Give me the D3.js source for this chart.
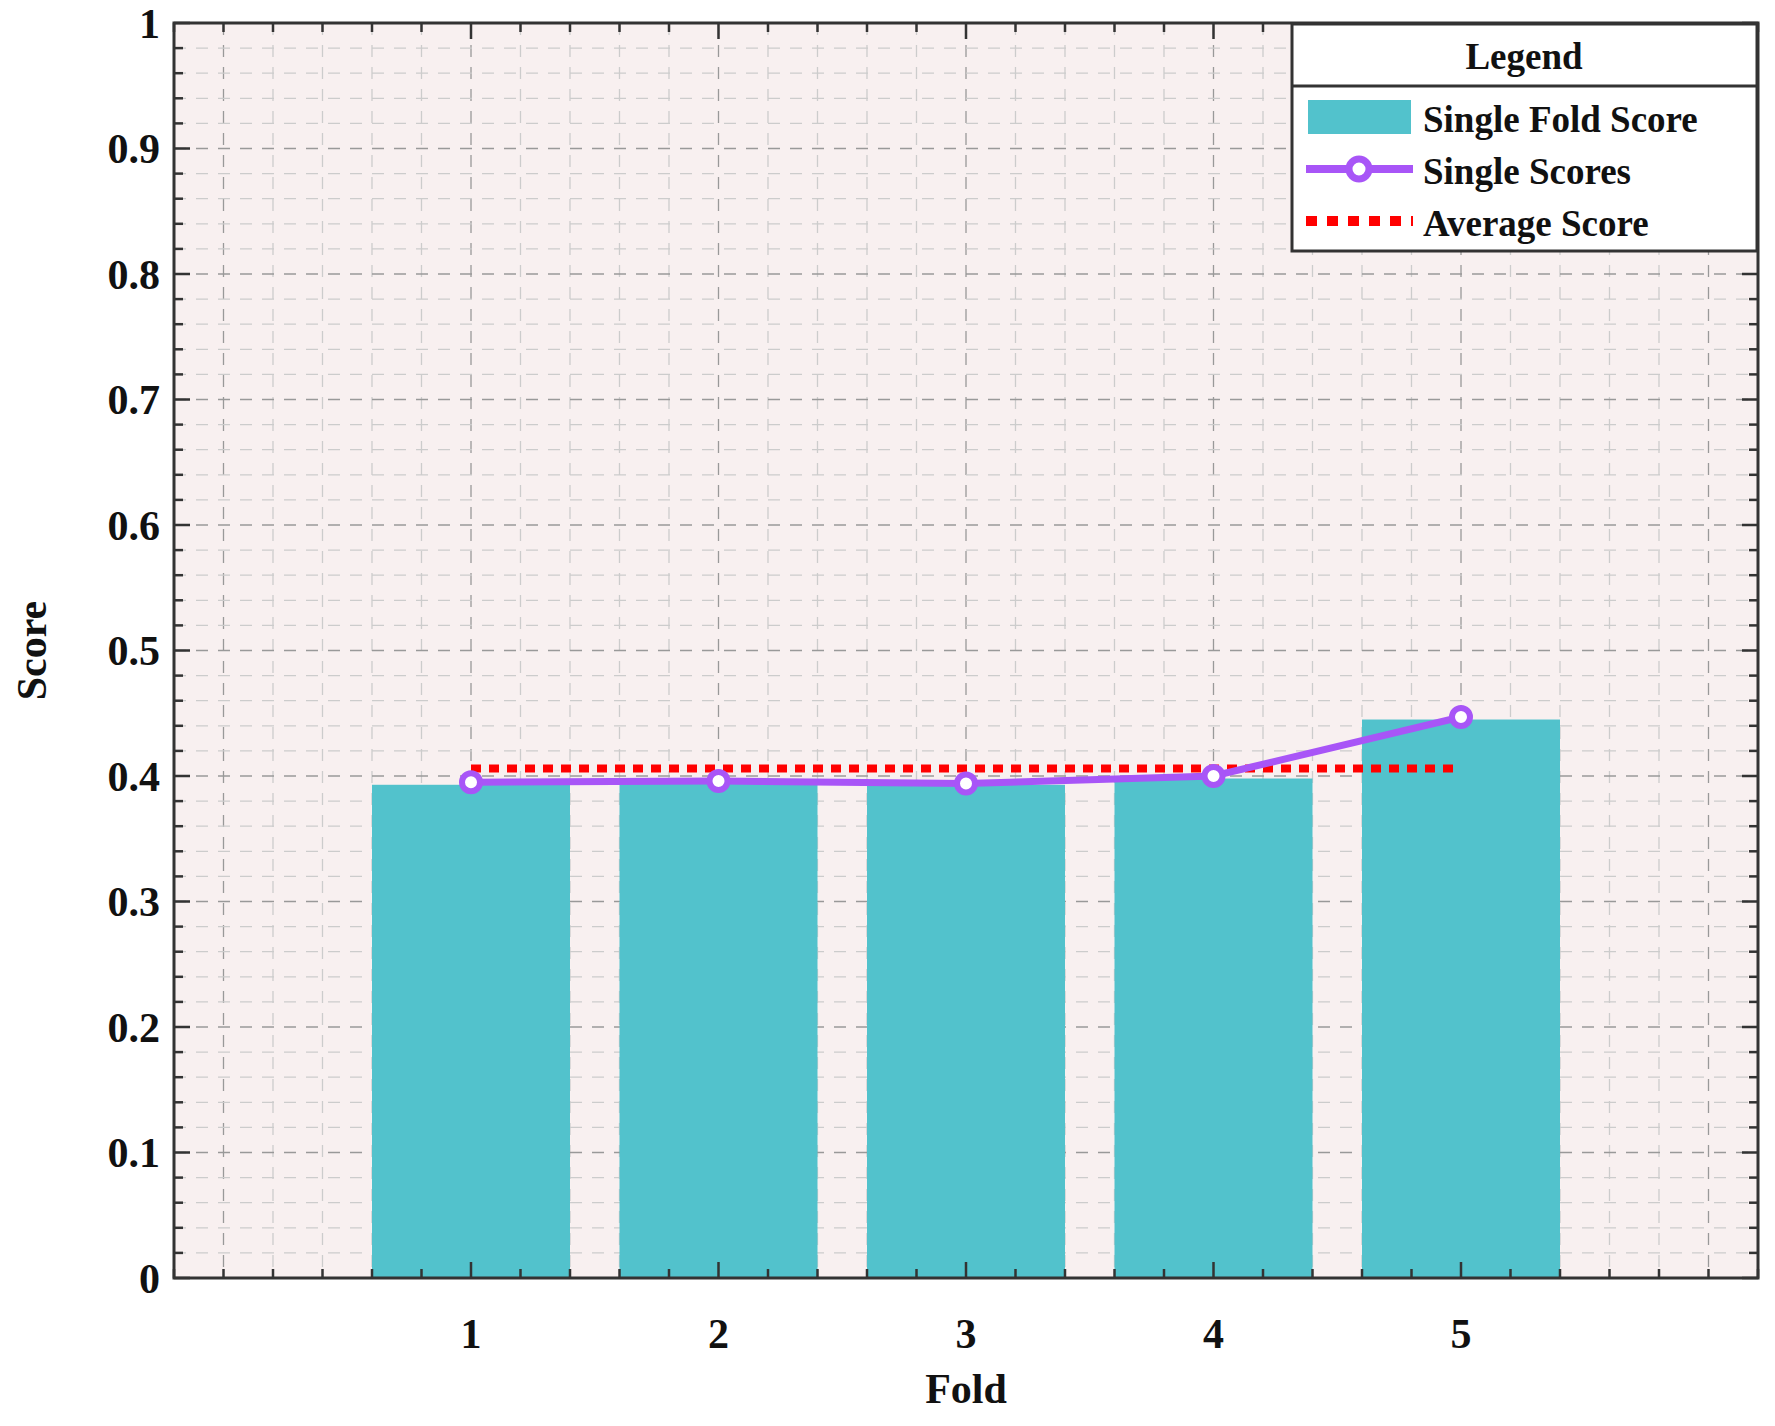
<!DOCTYPE html>
<html>
<head>
<meta charset="utf-8">
<script src="https://cdn.jsdelivr.net/npm/d3@7"></script>
<style>
  body { margin: 0; background: #fff; }
  text { font-family: "Liberation Serif", "Times New Roman", serif; font-weight: bold; fill: #111; }
</style>
</head>
<body>
<svg id="chart" width="1775" height="1426"></svg>
<script>
var folds = [1, 2, 3, 4, 5];
var foldScores = [0.393, 0.395, 0.393, 0.398, 0.445];
var singleScores = [0.395, 0.396, 0.394, 0.400, 0.447];
var averageScore = 0.406;
var yTicks = [0, 0.1, 0.2, 0.3, 0.4, 0.5, 0.6, 0.7, 0.8, 0.9, 1];

var pLeft = 174, pRight = 1758, pTop = 23, pBottom = 1278;
var svg = d3.select("#chart");

var x = d3.scaleLinear().domain([-0.2, 6.2]).range([pLeft, pRight]);
var y = d3.scaleLinear().domain([0, 1]).range([pBottom, pTop]);

svg.append("rect").attr("x", pLeft).attr("y", pTop)
   .attr("width", pRight - pLeft).attr("height", pBottom - pTop).attr("fill", "#f8f0f0");

// grid
var xMinor = d3.range(0, 33).map(function(i){ return -0.2 + i * 0.2; });
var yMinor = d3.range(0, 51).map(function(i){ return i * 0.02; });
svg.append("g").selectAll("line").data(xMinor).enter().append("line")
   .attr("x1", d => x(d)).attr("x2", d => x(d)).attr("y1", pTop).attr("y2", pBottom)
   .attr("stroke", d => Math.abs(d - Math.round(d)) < 1e-6 ? "#999" : "#ccc")
   .attr("stroke-width", 1.3).attr("stroke-dasharray", "12,10");
svg.append("g").selectAll("line").data(yMinor).enter().append("line")
   .attr("x1", pLeft).attr("x2", pRight).attr("y1", d => y(d)).attr("y2", d => y(d))
   .attr("stroke", d => Math.abs(d * 10 - Math.round(d * 10)) < 1e-6 ? "#999" : "#ccc")
   .attr("stroke-width", 1.3).attr("stroke-dasharray", "12,10");

// bars
svg.append("g").selectAll("rect").data(folds).enter().append("rect")
   .attr("x", d => x(d - 0.4)).attr("width", x(0.8) - x(0))
   .attr("y", (d, i) => y(foldScores[i])).attr("height", (d, i) => pBottom - y(foldScores[i]))
   .attr("fill", "#52c2cc");

// average line
svg.append("line").attr("x1", x(1)).attr("x2", x(5))
   .attr("y1", y(averageScore)).attr("y2", y(averageScore))
   .attr("stroke", "#ff0000").attr("stroke-width", 8).attr("stroke-dasharray", "10,8");

// single scores line
var line = d3.line().x((d, i) => x(folds[i])).y(d => y(d));
svg.append("path").datum(singleScores).attr("d", line)
   .attr("fill", "none").attr("stroke", "#a855f7").attr("stroke-width", 7);
svg.append("g").selectAll("circle").data(singleScores).enter().append("circle")
   .attr("cx", (d, i) => x(folds[i])).attr("cy", d => y(d)).attr("r", 9)
   .attr("fill", "#fff").attr("stroke", "#a855f7").attr("stroke-width", 6);

// axes frame
svg.append("rect").attr("x", pLeft).attr("y", pTop)
   .attr("width", pRight - pLeft).attr("height", pBottom - pTop)
   .attr("fill", "none").attr("stroke", "#333").attr("stroke-width", 3);

// ticks
var tk = svg.append("g").attr("stroke", "#333").attr("stroke-width", 2.5);
xMinor.forEach(function(d){
  var len = Math.abs(d - Math.round(d)) < 1e-6 && d >= 1 && d <= 5 ? 16 : 9;
  tk.append("line").attr("x1", x(d)).attr("x2", x(d)).attr("y1", pBottom).attr("y2", pBottom - len);
  tk.append("line").attr("x1", x(d)).attr("x2", x(d)).attr("y1", pTop).attr("y2", pTop + len);
});
yMinor.forEach(function(d){
  var len = Math.abs(d * 10 - Math.round(d * 10)) < 1e-6 ? 16 : 9;
  tk.append("line").attr("x1", pLeft).attr("x2", pLeft + len).attr("y1", y(d)).attr("y2", y(d));
  tk.append("line").attr("x1", pRight).attr("x2", pRight - len).attr("y1", y(d)).attr("y2", y(d));
});

svg.append("g").selectAll("text").data(yTicks).enter().append("text")
   .attr("x", pLeft - 14).attr("y", d => y(d)).attr("dy", "0.35em")
   .attr("text-anchor", "end").attr("font-size", 42).text(d => d);
svg.append("g").selectAll("text").data(folds).enter().append("text")
   .attr("x", d => x(d)).attr("y", pBottom + 70)
   .attr("text-anchor", "middle").attr("font-size", 42).text(d => d);

svg.append("text").attr("x", x(3)).attr("y", 1403).attr("text-anchor", "middle")
   .attr("font-size", 42).text("Fold");
svg.append("text").attr("transform", "translate(46," + y(0.5) + ") rotate(-90)")
   .attr("text-anchor", "middle").attr("font-size", 42).text("Score");

// legend
var lg = svg.append("g");
lg.append("rect").attr("x", 1292).attr("y", 24).attr("width", 465).attr("height", 227)
  .attr("fill", "#fff").attr("stroke", "#333").attr("stroke-width", 3);
lg.append("line").attr("x1", 1292).attr("x2", 1757).attr("y1", 86).attr("y2", 86)
  .attr("stroke", "#333").attr("stroke-width", 3);
lg.append("text").attr("x", 1524).attr("y", 56).attr("dy", "0.35em")
  .attr("text-anchor", "middle").attr("font-size", 37).text("Legend");
lg.append("rect").attr("x", 1308).attr("y", 100).attr("width", 103).attr("height", 34).attr("fill", "#52c2cc");
lg.append("line").attr("x1", 1306).attr("x2", 1413).attr("y1", 169).attr("y2", 169)
  .attr("stroke", "#a855f7").attr("stroke-width", 8);
lg.append("circle").attr("cx", 1359).attr("cy", 169).attr("r", 10)
  .attr("fill", "#fff").attr("stroke", "#a855f7").attr("stroke-width", 7);
lg.append("line").attr("x1", 1306).attr("x2", 1413).attr("y1", 221).attr("y2", 221)
  .attr("stroke", "#ff0000").attr("stroke-width", 10).attr("stroke-dasharray", "11,10");
["Single Fold Score", "Single Scores", "Average Score"].forEach(function(t, i){
  lg.append("text").attr("x", 1423).attr("y", 119 + i * 52).attr("dy", "0.35em")
    .attr("font-size", 37).text(t);
});
</script>
</body>
</html>
